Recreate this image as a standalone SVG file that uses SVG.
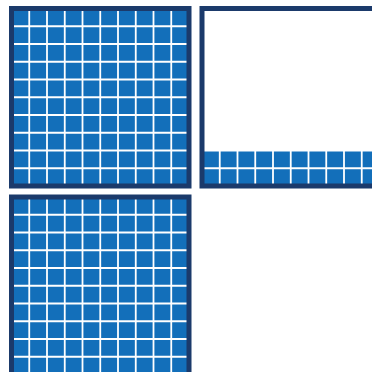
<svg xmlns="http://www.w3.org/2000/svg" width="372" height="372" viewBox="0 0 372 372">
<style>
.fill{fill:#136fba}
.grid{stroke:#ffffff;stroke-width:1.8;fill:none}
.frame{fill:none;stroke:#1b3a6b;stroke-width:5}
</style>
<rect width="372" height="372" fill="#ffffff"/>
<g id="square-full-1">
<rect class="fill" x="11.5" y="8.5" width="177.5" height="177.5"/>
<path class="grid" d="M29.25 8.5V186M47 8.5V186M64.75 8.5V186M82.5 8.5V186M100.25 8.5V186M118 8.5V186M135.75 8.5V186M153.5 8.5V186M171.25 8.5V186M11.5 26.25H189M11.5 44H189M11.5 61.75H189M11.5 79.5H189M11.5 97.25H189M11.5 115H189M11.5 132.75H189M11.5 150.5H189M11.5 168.25H189"/>
<rect class="frame" x="11.5" y="8.5" width="177.5" height="177.5"/>
</g>
<g id="square-partial">
<rect x="202" y="8.5" width="177.5" height="177.5" fill="#ffffff"/>
<rect class="fill" x="202" y="150.5" width="177.5" height="35.5"/>
<path class="grid" d="M219.75 150.5V186M237.5 150.5V186M255.25 150.5V186M273 150.5V186M290.75 150.5V186M308.5 150.5V186M326.25 150.5V186M344 150.5V186M361.75 150.5V186M202 150.5H379.5M202 168.25H379.5"/>
<rect class="frame" x="202" y="8.5" width="177.5" height="177.5"/>
</g>
<g id="square-full-2">
<rect class="fill" x="11.5" y="197" width="177.5" height="177.5"/>
<path class="grid" d="M29.25 197V374.5M47 197V374.5M64.75 197V374.5M82.5 197V374.5M100.25 197V374.5M118 197V374.5M135.75 197V374.5M153.5 197V374.5M171.25 197V374.5M11.5 214.75H189M11.5 232.5H189M11.5 250.25H189M11.5 268H189M11.5 285.75H189M11.5 303.5H189M11.5 321.25H189M11.5 339H189M11.5 356.75H189"/>
<rect class="frame" x="11.5" y="197" width="177.5" height="177.5"/>
</g>
<g id="connectors"></g>
</svg>
